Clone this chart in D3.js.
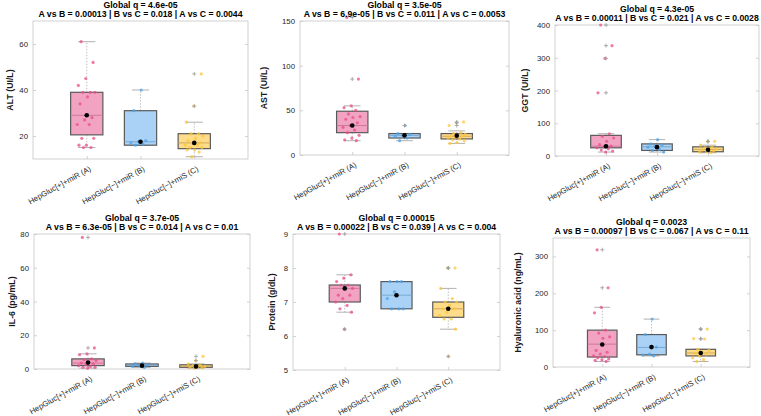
<!DOCTYPE html>
<html>
<head>
<meta charset="utf-8">
<script src="https://cdn.jsdelivr.net/npm/d3@7"></script>
<style>
body { margin: 0; background: #fff; }
svg { display: block; font-family: "Liberation Sans", Arial, sans-serif; }
</style>
</head>
<body>
<svg id="chart" width="761" height="416"></svg>
<script>
var groups = ["HepGluc[+]+miR (A)", "HepGluc[\u2212]+miR (B)", "HepGluc[\u2212]+miS (C)"];

// box stats per group: [lowWhisker, q1, median, q3, highWhisker, mean]
var altStats = [[15, 20.5, 29, 39, 61, 29], [16, 16, 17.5, 31, 40, 17.5], [11, 14.5, 17, 21, 26, 17]];
var altPoints = [
	[61, 52, 45, 42, 39, 39, 39, 37, 34, 28, 27, 25, 25, 19, 19, 16, 16, 15, 15],
	[40, 31, 18, 17.5, 17, 16.5, 16],
	[47, 33, 26, 21, 21, 20, 19, 18, 17, 17, 16, 16, 15, 15, 14, 14, 13, 11]
];

var astStats = [[16, 25, 33, 49, 55, 33], [16, 19, 22, 24, 24, 22], [13, 18, 21, 24, 27, 21.5]];
var astPoints = [
	[154, 85, 55, 53, 50, 46, 43, 42, 40, 36, 33, 31, 28, 25, 22, 19, 17, 16],
	[33, 24, 23, 22, 21, 19, 16],
	[37, 36, 33, 25, 24, 23, 22, 21, 21, 20, 19, 18, 17, 16, 14, 13]
];

var ggtStats = [[12, 25, 30, 63, 68, 30], [12, 17, 28, 37, 50, 27], [10, 13, 20, 28, 33, 19]];
var ggtPoints = [
	[400, 337, 298, 193, 68, 60, 55, 45, 35, 30, 28, 25, 22, 18, 15, 12],
	[50, 37, 33, 30, 27, 20, 17, 12],
	[45, 44, 33, 28, 25, 22, 20, 18, 15, 13, 12, 10]
];

var il6Stats = [[0.5, 2, 3.5, 6, 9, 3.8], [1, 1.5, 2, 3, 3.5, 2], [0.5, 1, 1.8, 2.5, 3, 1.5]];
var il6Points = [
	[78, 12.5, 9, 8.5, 6, 5.5, 5, 4, 3.5, 3, 2.5, 2, 1.5, 1, 1, 0.5],
	[3.5, 3, 2.5, 2, 1.5, 1],
	[7.5, 5, 3, 2.5, 2, 1.5, 1.2, 1, 0.8, 0.5]
];

var proteinStats = [[6.7, 7.0, 7.4, 7.5, 7.8, 7.4], [6.8, 6.8, 7.2, 7.6, 7.6, 7.2], [6.2, 6.55, 6.8, 7.0, 7.4, 6.8]];
var proteinPoints = [
	[9, 7.8, 7.7, 7.6, 7.5, 7.5, 7.4, 7.4, 7.2, 7.2, 7.1, 7.0, 6.9, 6.8, 6.7, 6.2],
	[7.6, 7.6, 7.6, 7.3, 7.1, 6.8, 6.8, 6.8],
	[8.0, 8.0, 7.4, 7.1, 7.0, 7.0, 6.9, 6.8, 6.8, 6.7, 6.6, 6.5, 6.5, 6.2, 5.4]
];

var haStats = [[15, 27, 62, 100, 162, 61], [30, 33, 53, 88, 130, 54], [15, 30, 38, 48, 48, 38]];
var haPoints = [
	[318, 215, 162, 147, 100, 92, 82, 78, 45, 40, 35, 30, 28, 25, 22, 20, 18, 15],
	[130, 88, 54, 35, 32, 30],
	[103, 103, 77, 76, 48, 45, 40, 38, 35, 30, 25, 20, 15]
];

var yLabels = ["ALT (UI/L)", "AST (UI/L)", "GGT (UI/L)", "IL-6 (pg/mL)", "Protein (g/dL)", "Hyaluronic acid (ng/mL)"];
var globalQ = ["4.6e-05", "3.5e-05", "4.3e-05", "3.7e-05", "0.00015", "0.0023"];
var pairQ = [
	["0.00013", "0.018", "0.0044"],
	["6.9e-05", "0.011", "0.0053"],
	["0.00011", "0.021", "0.0028"],
	["6.3e-05", "0.014", "0.01"],
	["0.00022", "0.039", "0.004"],
	["0.00097", "0.067", "0.11"]
];
var yDomains = [[10, 70], [0, 150], [0, 400], [0, 80], [5, 9], [0, 350]];
var yTicks = [[20, 40, 60], [0, 50, 100, 150], [0, 100, 200, 300, 400], [0, 20, 40, 60, 80], [5, 6, 7, 8, 9], [0, 100, 200, 300]];

var fills = ["#f2a3c2", "#a9d2f6", "#fedc8a"];
var dotColors = ["#e94e8a", "#4aa3ec", "#fdc537"];
var medianColors = ["#c6749a", "#73a5cf", "#c9a45a"];

// layout: plot box [left, top, right, bottom] and y label x
var layout = [
	{box: [33, 21, 248, 159], labX: 10},
	{box: [300, 21, 509, 155], labX: 264},
	{box: [555, 25, 759, 156], labX: 525},
	{box: [34, 234, 250, 369], labX: 12},
	{box: [293, 234, 500, 370], labX: 272},
	{box: [553, 238, 750, 367], labX: 518}
];

var allStats = [altStats, astStats, ggtStats, il6Stats, proteinStats, haStats];
var allPoints = [altPoints, astPoints, ggtPoints, il6Points, proteinPoints, haPoints];

var svg = d3.select("#chart");

function jitter(i) {
	return (((i * 0.6180339887) + 0.21) % 1 - 0.5) * 0.36;
}

function drawPanel(k) {
	var L = layout[k], b = L.box;
	var stats = allStats[k], points = allPoints[k];
	var g = svg.append("g");

	var x = d3.scaleLinear().domain([0, 4]).range([b[0], b[2]]);
	var y = d3.scaleLinear().domain(yDomains[k]).range([b[3], b[1]]);

	// axes frame
	g.append("rect")
		.attr("x", b[0]).attr("y", b[1])
		.attr("width", b[2] - b[0]).attr("height", b[3] - b[1])
		.attr("fill", "#fff").attr("stroke", "#c6c6c6").attr("stroke-width", 0.8);

	var yAx = g.append("g").attr("transform", "translate(" + b[0] + ",0)")
		.call(d3.axisLeft(y).tickValues(yTicks[k]).tickSize(-3).tickPadding(5)
			.tickFormat(function(d) { return String(d); }));
	var yAxR = g.append("g").attr("transform", "translate(" + b[2] + ",0)")
		.call(d3.axisRight(y).tickValues(yTicks[k]).tickSize(-3).tickFormat(""));
	var xAx = g.append("g").attr("transform", "translate(0," + b[3] + ")")
		.call(d3.axisBottom(x).tickValues([1, 2, 3]).tickSize(-3).tickPadding(5)
			.tickFormat(function(d) { return groups[d - 1]; }));

	[yAx, yAxR, xAx].forEach(function(a) {
		a.select(".domain").remove();
		a.selectAll(".tick line").attr("stroke", "#c6c6c6").attr("stroke-width", 0.8);
		a.selectAll("text").attr("fill", "#262626").attr("font-size", "7.8px")
			.attr("font-family", "Liberation Sans, Arial, sans-serif");
	});

	xAx.selectAll(".tick text")
		.attr("text-anchor", "end")
		.attr("dy", "0.35em")
		.attr("y", 0)
		.attr("font-size", "7.8px")
		.attr("transform", "translate(3,9) rotate(-29)");

	// boxes
	stats.forEach(function(s, i) {
		var c = i + 1;
		var gg = g.append("g");
		// whiskers
		gg.append("line").attr("x1", x(c)).attr("x2", x(c)).attr("y1", y(s[3])).attr("y2", y(s[4]))
			.attr("stroke", "#b0b0b0").attr("stroke-width", 0.8).attr("stroke-dasharray", "1.5,1.5");
		gg.append("line").attr("x1", x(c)).attr("x2", x(c)).attr("y1", y(s[1])).attr("y2", y(s[0]))
			.attr("stroke", "#b0b0b0").attr("stroke-width", 0.8).attr("stroke-dasharray", "1.5,1.5");
		[s[0], s[4]].forEach(function(v) {
			gg.append("line").attr("x1", x(c - 0.16)).attr("x2", x(c + 0.16)).attr("y1", y(v)).attr("y2", y(v))
				.attr("stroke", "#a8a8a8").attr("stroke-width", 0.9);
		});
		gg.append("rect")
			.attr("x", x(c - 0.3)).attr("width", x(c + 0.3) - x(c - 0.3))
			.attr("y", y(s[3])).attr("height", Math.max(y(s[1]) - y(s[3]), 0.5))
			.attr("fill", fills[i]).attr("stroke", "#5a5a5a").attr("stroke-width", 1.2);
		gg.append("line").attr("x1", x(c - 0.3)).attr("x2", x(c + 0.3)).attr("y1", y(s[2])).attr("y2", y(s[2]))
			.attr("stroke", medianColors[i]).attr("stroke-width", 0.9);
	});

	// jittered points
	points.forEach(function(vals, i) {
		var c = i + 1;
		g.append("g").selectAll("circle").data(vals).enter().append("circle")
			.attr("cx", function(d, j) { return x(c + jitter(j + i * 7)); })
			.attr("cy", function(d) { return y(d); })
			.attr("r", 1.6)
			.attr("fill", dotColors[i]).attr("fill-opacity", 0.75);

		// outlier markers at the group centre
		var lo = stats[i][0], hi = stats[i][4];
		var outs = vals.filter(function(v) { return v < lo || v > hi; });
		g.append("g").selectAll("path").data(outs).enter().append("path")
			.attr("d", function(d) {
				var px = x(c), py = y(d);
				return "M" + (px - 2) + "," + py + "H" + (px + 2) + "M" + px + "," + (py - 2) + "V" + (py + 2);
			})
			.attr("stroke", "#9a9a9a").attr("stroke-width", 0.8);
	});

	// means
	g.append("g").selectAll("circle").data(stats).enter().append("circle")
		.attr("cx", function(d, i) { return x(i + 1); })
		.attr("cy", function(d) { return y(d[5]); })
		.attr("r", 2.3).attr("fill", "#000");

	// titles
	var cx = (b[0] + b[2]) / 2;
	g.append("text").attr("x", cx).attr("y", b[1] - 13.5)
		.attr("text-anchor", "middle").attr("font-size", "8.7px").attr("font-weight", "bold")
		.text("Global q = " + globalQ[k]);
	g.append("text").attr("x", cx).attr("y", b[1] - 4.5)
		.attr("text-anchor", "middle").attr("font-size", "8.7px").attr("font-weight", "bold")
		.text("A vs B = " + pairQ[k][0] + " | B vs C = " + pairQ[k][1] + " | A vs C = " + pairQ[k][2]);

	// y label
	g.append("text")
		.attr("transform", "translate(" + L.labX + "," + ((b[1] + b[3]) / 2) + ") rotate(-90)")
		.attr("text-anchor", "middle").attr("dy", "0.35em")
		.attr("font-size", "8.8px").attr("font-weight", "bold").attr("fill", "#1a1a1a")
		.text(yLabels[k]);
}

for (var k = 0; k < 6; k++) drawPanel(k);
</script>
</body>
</html>
